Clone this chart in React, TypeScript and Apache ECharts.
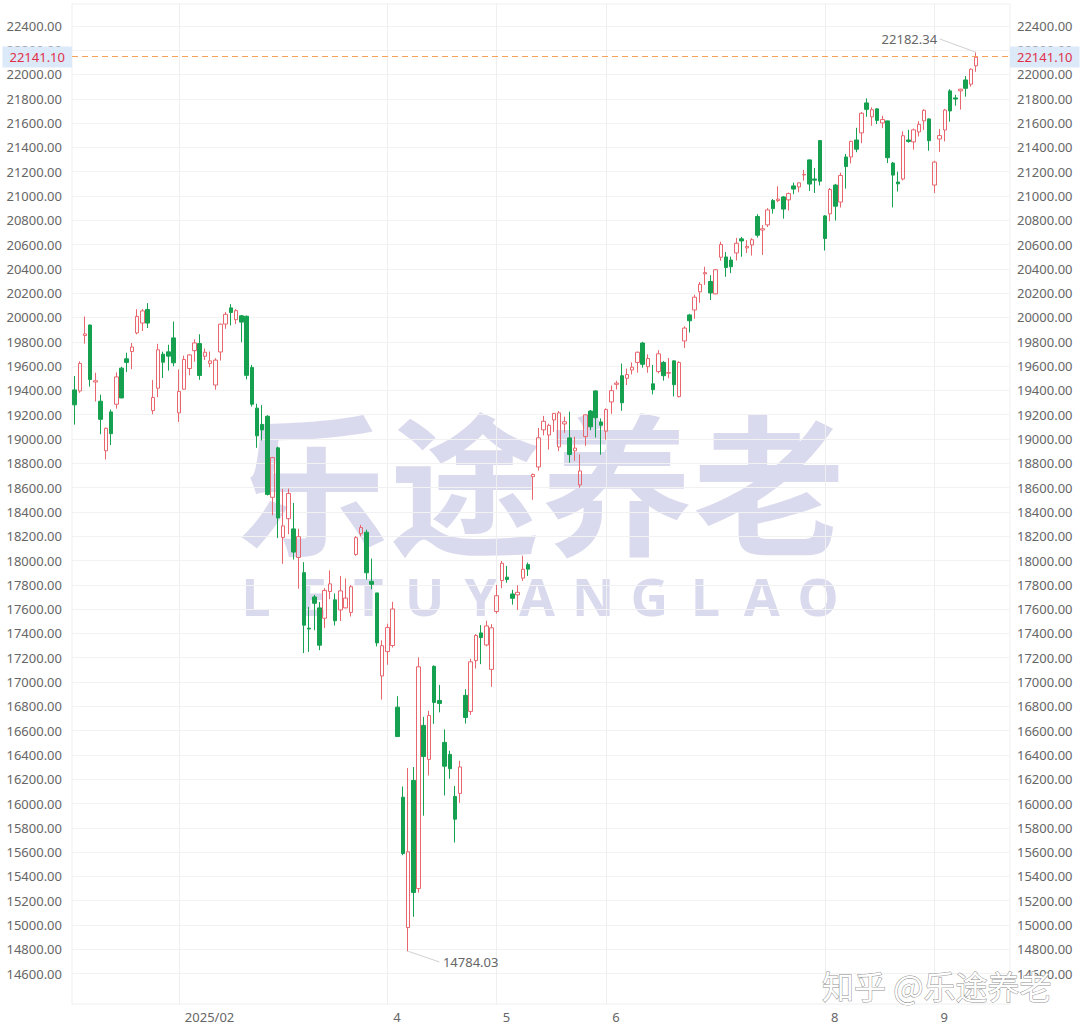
import React, { useEffect, useRef } from "react";
import * as echarts from "echarts";

// [date, open, close, low, high]
const candles: [string, number, number, number, number][] = [
  ["2025-01-02", 19404, 19281, 19118, 19518],
  ["2025-01-03", 19395, 19622, 19380, 19639],
  ["2025-01-06", 19852, 19865, 19785, 20008],
  ["2025-01-07", 19938, 19490, 19431, 19941],
  ["2025-01-08", 19469, 19479, 19308, 19545],
  ["2025-01-10", 19311, 19162, 19039, 19365],
  ["2025-01-13", 18903, 19088, 18831, 19094],
  ["2025-01-14", 19223, 19044, 18950, 19242],
  ["2025-01-15", 19286, 19511, 19250, 19548],
  ["2025-01-16", 19583, 19338, 19335, 19594],
  ["2025-01-17", 19660, 19630, 19550, 19710],
  ["2025-01-21", 19720, 19757, 19575, 19790],
  ["2025-01-22", 19873, 20009, 19861, 20068],
  ["2025-01-23", 19954, 20054, 19889, 20070],
  ["2025-01-24", 20066, 19954, 19913, 20118],
  ["2025-01-27", 19234, 19342, 19204, 19486],
  ["2025-01-28", 19418, 19734, 19344, 19783],
  ["2025-01-29", 19698, 19632, 19502, 19719],
  ["2025-01-30", 19717, 19682, 19563, 19776],
  ["2025-01-31", 19832, 19627, 19598, 19967],
  ["2025-02-03", 19215, 19392, 19141, 19572],
  ["2025-02-04", 19410, 19654, 19405, 19686],
  ["2025-02-05", 19580, 19692, 19524, 19697],
  ["2025-02-06", 19727, 19791, 19636, 19820],
  ["2025-02-07", 19785, 19523, 19487, 19862],
  ["2025-02-10", 19681, 19714, 19650, 19745],
  ["2025-02-11", 19622, 19643, 19591, 19720],
  ["2025-02-12", 19444, 19649, 19406, 19665],
  ["2025-02-13", 19716, 19945, 19646, 19948],
  ["2025-02-14", 19946, 20026, 19907, 20045],
  ["2025-02-18", 20079, 20041, 19934, 20110],
  ["2025-02-19", 19982, 20056, 19946, 20070],
  ["2025-02-20", 20014, 19962, 19796, 20021],
  ["2025-02-21", 20010, 19524, 19491, 20016],
  ["2025-02-24", 19589, 19286, 19267, 19610],
  ["2025-02-25", 19254, 19026, 18927, 19290],
  ["2025-02-26", 19120, 19075, 18988, 19279],
  ["2025-02-27", 19187, 18544, 18535, 19196],
  ["2025-02-28", 18520, 18847, 18372, 18853],
  ["2025-03-03", 18927, 18350, 18184, 18937],
  ["2025-03-04", 18190, 18285, 17973, 18589],
  ["2025-03-05", 18344, 18552, 18216, 18592],
  ["2025-03-06", 18260, 18069, 18008, 18474],
  ["2025-03-07", 18025, 18196, 17768, 18261],
  ["2025-03-10", 17900, 17468, 17238, 17986],
  ["2025-03-11", 17443, 17436, 17248, 17618],
  ["2025-03-12", 17700, 17648, 17426, 17717],
  ["2025-03-13", 17610, 17303, 17262, 17658],
  ["2025-03-14", 17525, 17754, 17444, 17773],
  ["2025-03-17", 17745, 17808, 17682, 17919],
  ["2025-03-18", 17676, 17504, 17465, 17729],
  ["2025-03-19", 17593, 17750, 17502, 17873],
  ["2025-03-20", 17610, 17691, 17608, 17852],
  ["2025-03-21", 17573, 17784, 17539, 17797],
  ["2025-03-24", 18050, 18188, 18039, 18201],
  ["2025-03-25", 18221, 18271, 18198, 18293],
  ["2025-03-26", 18233, 17899, 17843, 18254],
  ["2025-03-27", 17828, 17804, 17763, 18016],
  ["2025-03-28", 17733, 17322, 17293, 17734],
  ["2025-03-31", 17050, 17299, 16855, 17343],
  ["2025-04-01", 17250, 17449, 17142, 17480],
  ["2025-04-02", 17300, 17601, 17284, 17660],
  ["2025-04-03", 16793, 16551, 16550, 16883],
  ["2025-04-04", 16052, 15588, 15575, 16140],
  ["2025-04-07", 14979, 15603, 14784.03, 16292],
  ["2025-04-08", 16190, 15268, 15067, 16300],
  ["2025-04-09", 15300, 17125, 15267, 17203],
  ["2025-04-10", 16643, 16387, 15900, 16713],
  ["2025-04-11", 16363, 16724, 16230, 16763],
  ["2025-04-14", 17129, 16832, 16656, 17137],
  ["2025-04-15", 16848, 16824, 16750, 16976],
  ["2025-04-16", 16503, 16307, 16066, 16610],
  ["2025-04-17", 16404, 16287, 16204, 16435],
  ["2025-04-21", 16058, 15871, 15679, 16144],
  ["2025-04-22", 16083, 16301, 16006, 16352],
  ["2025-04-23", 16890, 16708, 16658, 16940],
  ["2025-04-24", 16758, 17166, 16730, 17191],
  ["2025-04-25", 17176, 17383, 17111, 17394],
  ["2025-04-28", 17404, 17366, 17147, 17468],
  ["2025-04-29", 17305, 17461, 17293, 17504],
  ["2025-04-30", 17104, 17446, 16960, 17477],
  ["2025-05-01", 17580, 17710, 17563, 17799],
  ["2025-05-02", 17835, 17977, 17772, 17996],
  ["2025-05-05", 17863, 17844, 17817, 17955],
  ["2025-05-06", 17724, 17689, 17637, 17759],
  ["2025-05-07", 17717, 17738, 17593, 17796],
  ["2025-05-08", 17855, 17928, 17832, 18040],
  ["2025-05-09", 17966, 17929, 17873, 17983],
  ["2025-05-12", 18690, 18708, 18500, 18716],
  ["2025-05-13", 18770, 19010, 18740, 19090],
  ["2025-05-14", 19075, 19146, 19030, 19190],
  ["2025-05-15", 19033, 19112, 18913, 19126],
  ["2025-05-16", 19157, 19211, 19058, 19213],
  ["2025-05-19", 18935, 19215, 18900, 19230],
  ["2025-05-20", 19124, 19142, 19051, 19184],
  ["2025-05-21", 19009, 18872, 18805, 19225],
  ["2025-05-22", 18902, 18925, 18821, 19018],
  ["2025-05-23", 18622, 18737, 18599, 18874],
  ["2025-05-27", 19020, 19199, 18943, 19201],
  ["2025-05-28", 19230, 19100, 19072, 19239],
  ["2025-05-29", 19396, 19175, 19012, 19400],
  ["2025-05-30", 19140, 19113, 18871, 19169],
  ["2025-06-02", 19064, 19242, 18995, 19252],
  ["2025-06-03", 19305, 19398, 19207, 19440],
  ["2025-06-04", 19450, 19460, 19407, 19479],
  ["2025-06-05", 19521, 19298, 19232, 19621],
  ["2025-06-06", 19500, 19530, 19444, 19580],
  ["2025-06-09", 19568, 19591, 19531, 19631],
  ["2025-06-10", 19630, 19714, 19546, 19719],
  ["2025-06-11", 19790, 19615, 19587, 19800],
  ["2025-06-12", 19595, 19662, 19545, 19697],
  ["2025-06-13", 19454, 19406, 19367, 19610],
  ["2025-06-16", 19555, 19701, 19540, 19731],
  ["2025-06-17", 19630, 19521, 19480, 19642],
  ["2025-06-18", 19542, 19546, 19500, 19666],
  ["2025-06-20", 19643, 19447, 19350, 19646],
  ["2025-06-23", 19349, 19630, 19342, 19640],
  ["2025-06-24", 19807, 19913, 19749, 19928],
  ["2025-06-25", 20021, 19973, 19876, 20030],
  ["2025-06-26", 20062, 20167, 19990, 20187],
  ["2025-06-27", 20211, 20273, 20122, 20292],
  ["2025-06-30", 20359, 20369, 20268, 20418],
  ["2025-07-01", 20296, 20202, 20144, 20348],
  ["2025-07-02", 20194, 20393, 20192, 20400],
  ["2025-07-03", 20496, 20601, 20467, 20624],
  ["2025-07-07", 20498, 20412, 20335, 20538],
  ["2025-07-08", 20473, 20418, 20365, 20501],
  ["2025-07-09", 20531, 20611, 20469, 20655],
  ["2025-07-10", 20647, 20630, 20500, 20662],
  ["2025-07-11", 20573, 20585, 20531, 20636],
  ["2025-07-14", 20597, 20640, 20509, 20653],
  ["2025-07-15", 20831, 20677, 20658, 20850],
  ["2025-07-16", 20720, 20730, 20515, 20761],
  ["2025-07-17", 20762, 20885, 20744, 20900],
  ["2025-07-18", 20962, 20896, 20855, 20975],
  ["2025-07-21", 20962, 20974, 20949, 21080],
  ["2025-07-22", 20992, 20892, 20813, 21000],
  ["2025-07-23", 20968, 21020, 20880, 21028],
  ["2025-07-24", 21083, 21057, 21015, 21110],
  ["2025-07-25", 21074, 21108, 21031, 21110],
  ["2025-07-28", 21173, 21178, 21126, 21215],
  ["2025-07-29", 21297, 21098, 21041, 21300],
  ["2025-07-30", 21140, 21130, 21025, 21231],
  ["2025-07-31", 21456, 21122, 21087, 21457],
  ["2025-08-01", 20836, 20650, 20551, 20843],
  ["2025-08-04", 20853, 21053, 20792, 21066],
  ["2025-08-05", 21090, 20916, 20798, 21100],
  ["2025-08-06", 20950, 21169, 20905, 21192],
  ["2025-08-07", 21321, 21242, 21061, 21346],
  ["2025-08-08", 21321, 21450, 21268, 21455],
  ["2025-08-11", 21461, 21385, 21360, 21561],
  ["2025-08-12", 21519, 21681, 21434, 21692],
  ["2025-08-13", 21766, 21713, 21652, 21803],
  ["2025-08-14", 21651, 21710, 21578, 21730],
  ["2025-08-15", 21717, 21622, 21592, 21721],
  ["2025-08-18", 21601, 21629, 21558, 21661],
  ["2025-08-19", 21618, 21315, 21271, 21620],
  ["2025-08-20", 21271, 21172, 20906, 21280],
  ["2025-08-21", 21115, 21100, 21037, 21200],
  ["2025-08-22", 21140, 21496, 21128, 21532],
  ["2025-08-25", 21461, 21449, 21438, 21545],
  ["2025-08-26", 21445, 21544, 21381, 21555],
  ["2025-08-27", 21527, 21590, 21490, 21616],
  ["2025-08-28", 21618, 21705, 21544, 21714],
  ["2025-08-29", 21634, 21455, 21372, 21637],
  ["2025-09-02", 21090, 21279, 21025, 21290],
  ["2025-09-03", 21469, 21497, 21363, 21552],
  ["2025-09-04", 21543, 21707, 21449, 21717],
  ["2025-09-05", 21865, 21700, 21612, 21879],
  ["2025-09-08", 21807, 21798, 21743, 21832],
  ["2025-09-09", 21865, 21879, 21711, 21882],
  ["2025-09-10", 21955, 21886, 21817, 21988],
  ["2025-09-11", 21920, 22043, 21900, 22050],
  ["2025-09-12", 22071, 22141.1, 22022, 22182.34],
];

const futureDays = ["2025-09-15", "2025-09-16", "2025-09-17", "2025-09-18", "2025-09-19", "2025-09-22"];

const monthTickDates = ["2025-02-03", "2025-04-01", "2025-05-01", "2025-06-02", "2025-08-01", "2025-09-02"];
const monthTickTexts = ["2025/02", "4", "5", "6", "8", "9"];

const yTicks = [
  14600, 14800, 15000, 15200, 15400, 15600, 15800, 16000, 16200, 16400,
  16600, 16800, 17000, 17200, 17400, 17600, 17800, 18000, 18200, 18400,
  18600, 18800, 19000, 19200, 19400, 19600, 19800, 20000, 20200, 20400,
  20600, 20800, 21000, 21200, 21400, 21600, 21800, 22000, 22200, 22400,
];
const yMin = 14350;
const yMax = 22580;

const watermarkCN = "乐途养老";
const watermarkLetters = ["L", "E", "T", "U", "Y", "A", "N", "G", "L", "A", "O"];
const creditText = "知乎 @乐途养老";

const UP = "#e8666d";
const DOWN = "#15a150";
const PRICE_LINE = "#f4a25a";

const GRID_LEFT = 72;
const GRID_RIGHT = 70;
const WIDTH = 1080;
const HEIGHT = 1029;

export default function App() {
  const ref = useRef<HTMLDivElement>(null);

  useEffect(() => {
    document.body.style.margin = "0";
    if (!ref.current) return;
    const chart = echarts.init(ref.current, null, { renderer: "svg" });

    const categories = candles.map((c) => c[0]).concat(futureDays);
    const ohlc = candles.map((c) => [c[1], c[2], c[3], c[4]]);

    const last = candles[candles.length - 1][2];
    let hiIdx = 0;
    let loIdx = 0;
    candles.forEach((c, i) => {
      if (c[4] > candles[hiIdx][4]) hiIdx = i;
      if (c[3] < candles[loIdx][3]) loIdx = i;
    });
    const hi = candles[hiIdx][4];
    const lo = candles[loIdx][3];
    const hiEnd = [hiIdx - 7, hi + 110];
    const loEnd = [loIdx + 6, lo - 88];

    const tickText = (v: string) => {
      const k = monthTickDates.indexOf(v);
      return k >= 0 ? monthTickTexts[k] : "";
    };
    const isTick = (_i: number, v: string) => monthTickDates.indexOf(v) >= 0;

    const yAxisBase = {
      type: "value",
      min: yMin,
      max: yMax,
      scale: true,
      axisLine: { show: false },
      axisTick: { show: false, customValues: yTicks },
      axisLabel: {
        customValues: yTicks,
        formatter: (v: number) => v.toFixed(2),
        color: "#666",
        fontSize: 13,
      },
    };

    const cx = 541;
    const letterX0 = 256;
    const letterDx = 56.2;
    const leader = { type: "solid", color: "#d0d0d0", width: 1 };

    const watermark = [
      {
        id: "wm-cn",
        type: "text",
        x: cx,
        y: 478,
        z: -10,
        silent: true,
        style: {
          text: watermarkCN,
          fontSize: 152,
          fontWeight: "bold",
          fontFamily: "'Noto Sans CJK SC'",
          fill: "#dadaee",
          align: "center",
          verticalAlign: "middle",
        },
      },
      ...watermarkLetters.map((ch, i) => ({
        id: "wm-l" + i,
        type: "text",
        x: letterX0 + letterDx * i,
        y: 595,
        z: -10,
        silent: true,
        style: {
          text: ch,
          fontSize: 52,
          fontWeight: "bold",
          fontFamily: "'Noto Sans', sans-serif",
          fill: "#dadaee",
          align: "center",
          verticalAlign: "middle",
        },
      })),
      {
        id: "credit",
        type: "text",
        x: 822,
        y: 985,
        z: 100,
        silent: true,
        style: {
          text: creditText,
          fontSize: 32,
          fontFamily: "'Noto Sans CJK SC'",
          fill: "#ffffff",
          stroke: "#8f8f8f",
          lineWidth: 1,
          align: "left",
          verticalAlign: "middle",
        },
      },
    ];

    chart.setOption({
      animation: false,
      textStyle: { fontFamily: "'Noto Sans', sans-serif" },
      grid: { left: GRID_LEFT, right: GRID_RIGHT, top: 4, bottom: 25, show: true, borderColor: "#efefef", borderWidth: 1, outerBoundsMode: "none" },
      xAxis: {
        type: "category",
        data: categories,
        boundaryGap: true,
        axisLine: { show: false },
        axisTick: { show: false },
        axisLabel: {
          interval: isTick,
          formatter: tickText,
          color: "#666",
          fontSize: 13,
          align: "left",
          padding: [0, 0, 0, 6],
          margin: 6,
        },
        splitLine: {
          show: true,
          interval: isTick,
          alignWithLabel: true,
          lineStyle: { color: "#efefef", width: 1 },
        },
      },
      yAxis: [
        {
          ...yAxisBase,
          position: "left",
          axisLabel: { ...yAxisBase.axisLabel, margin: 10 },
          splitLine: { show: true, lineStyle: { color: "#f2f2f2", width: 1 } },
        },
        {
          ...yAxisBase,
          position: "right",
          axisLabel: { ...yAxisBase.axisLabel, margin: 7 },
          splitLine: { show: false },
        },
      ],
      graphic: watermark,
      series: [
        {
          name: "index",
          type: "candlestick",
          data: ohlc,
          barWidth: 4,
          itemStyle: {
            color: "rgba(255,255,255,0)",
            color0: DOWN,
            borderColor: UP,
            borderColor0: DOWN,
            borderWidth: 1,
          },
          markLine: {
            silent: true,
            symbol: ["none", "none"],
            animation: false,
            lineStyle: leader,
            label: { show: false },
            data: [
              [{ coord: [hiIdx, hi] }, { coord: hiEnd }],
              [{ coord: [loIdx, lo] }, { coord: loEnd }],
            ],
          },
          markPoint: {
            silent: true,
            symbol: "circle",
            symbolSize: 1,
            itemStyle: { color: "rgba(0,0,0,0)" },
            animation: false,
            data: [
              {
                coord: hiEnd,
                label: { show: true, position: "left", distance: 2, formatter: () => hi.toFixed(2), color: "#666", fontSize: 13 },
              },
              {
                coord: loEnd,
                label: { show: true, position: "right", distance: 3, formatter: () => lo.toFixed(2), color: "#666", fontSize: 13 },
              },
            ],
          },
        },
      ],
    });

    // last-price line and its two tags, positioned through the y scale
    const py = Math.round(chart.convertToPixel({ yAxisIndex: 0 }, last) as number);
    const tagStyle = {
      text: last.toFixed(2),
      fontSize: 13,
      fontFamily: "'Noto Sans', sans-serif",
      fill: "#e0304a",
      backgroundColor: "#dbe9f9",
      padding: [4, 7, 4, 7],
      verticalAlign: "middle",
    };
    chart.setOption({
      graphic: [
        ...watermark,
        {
          id: "price-line",
          type: "rect",
          z: 50,
          silent: true,
          shape: { x: GRID_LEFT, y: py - 0.5, width: WIDTH - GRID_RIGHT - GRID_LEFT, height: 0 },
          style: { fill: "none", stroke: PRICE_LINE, lineWidth: 1, lineDash: [6, 4] },
        },
        {
          id: "tag-left",
          type: "text",
          z: 60,
          silent: true,
          x: GRID_LEFT,
          y: py,
          style: { ...tagStyle, align: "right" },
        },
        {
          id: "tag-right",
          type: "text",
          z: 60,
          silent: true,
          x: WIDTH - GRID_RIGHT,
          y: py,
          style: { ...tagStyle, align: "left" },
        },
      ],
    });

    return () => chart.dispose();
  }, []);

  return <div ref={ref} style={{ width: WIDTH, height: HEIGHT }} />;
}
